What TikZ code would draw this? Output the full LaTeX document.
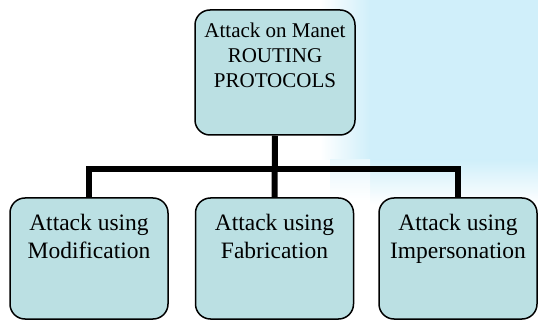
\documentclass[tikz,border=0pt]{standalone}
\usepackage{fontspec}
\setmainfont{Liberation Serif}
\definecolor{boxfill}{RGB}{187,224,227}
\definecolor{bgblue}{RGB}{208,239,250}
\begin{document}
\begin{tikzpicture}[x=1pt,y=-1pt,
  box/.style={draw=black, line width=1.5pt, fill=boxfill, rounded corners=15pt,
    minimum width=158pt, minimum height=121pt, inner sep=0pt},
  toptxt/.style={anchor=north, inner sep=0pt, align=center, text=black,
    font=\fontsize{21}{25}\selectfont},
  bottxt/.style={anchor=north, inner sep=0pt, align=center, text=black,
    font=\fontsize{23.5}{28}\selectfont},
  conn/.style={draw=black, line width=6pt}]
\useasboundingbox (0,0) rectangle (538,320);
\fill[white] (0,0) rectangle (538,320);
% light blue background blur
\fill[bgblue] (370,0) rectangle (538,160);
\shade[left color=white, right color=bgblue] (320,0) rectangle (370,160);
\shade[top color=bgblue, bottom color=white] (370,160) rectangle (538,205);
\shade[top color=bgblue!50, bottom color=white] (330,160) rectangle (370,200);
% boxes
\node[box, minimum width=160pt, minimum height=125pt] (t) at (275,72.5) {};
\node[box] (b1) at (89,258.5) {};
\node[box] (b2) at (274.5,258.5) {};
\node[box] (b3) at (458,258.5) {};
% connectors
\coordinate (bar) at (275,169.5);
\draw[conn] (t.south) -- (b2.north);
\draw[conn] (b1.north) -- (b1.north |- bar) -- (b3.north |- bar) -- (b3.north);
% texts
\node[toptxt] (tt) at (275,22.7) {Attack on Manet\\ROUTING\\PROTOCOLS};
\node[bottxt] (t1) at (89,214) {Attack using\\Modification};
\node[bottxt] (t2) at (274.5,214) {Attack using\\Fabrication};
\node[bottxt] (t3) at (458,214) {Attack using\\Impersonation};
\end{tikzpicture}
\end{document}
